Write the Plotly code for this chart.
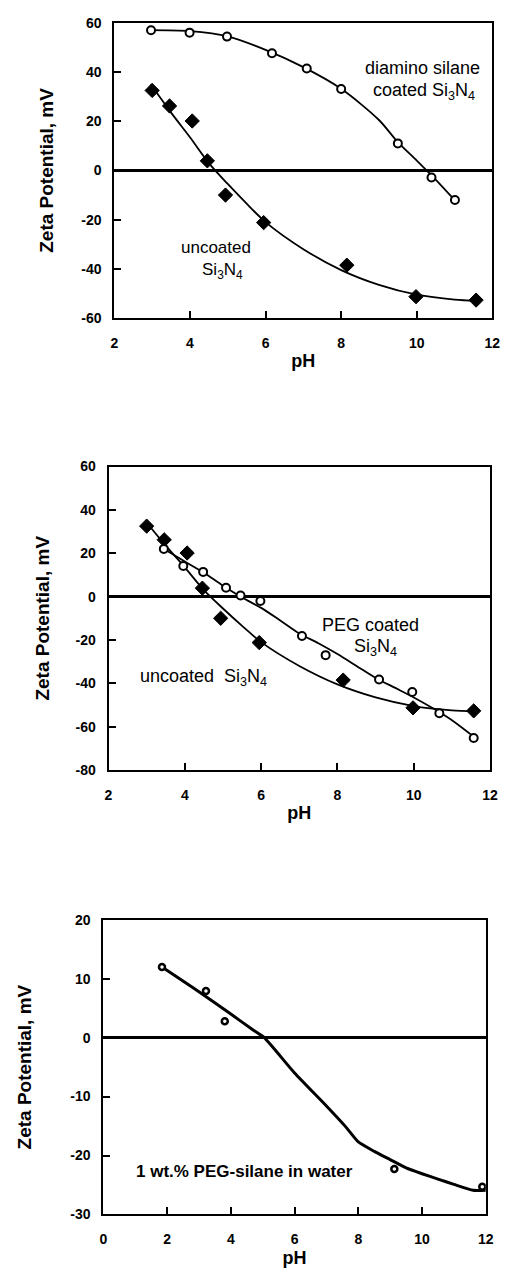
import plotly.graph_objects as go

# ---- Panel 1 & 2: uncoated Si3N4 (measured points and fitted curve) ----
ph_uncoated = [3.0, 3.46, 4.06, 4.46, 4.94, 5.95, 8.15, 9.98, 11.57]
zeta_uncoated = [32.5, 26.2, 20.1, 3.9, -10.0, -21.2, -38.5, -51.3, -52.7]
fit_ph_uncoated = [2.96, 3.5, 4.0, 4.5, 5.0, 5.5, 6.0, 7.0, 8.0, 9.0, 10.0, 11.0, 11.6]
fit_zeta_uncoated = [35.0, 23.5, 13.5, 3.0, -5.5, -13.5, -21.0, -32.0, -40.5, -46.5, -50.5, -52.5, -53.0]

# ---- Panel 1: diamino silane coated Si3N4 ----
ph_diamino = [2.97, 3.99, 4.98, 6.17, 7.09, 8.0, 9.5, 10.39, 11.01]
zeta_diamino = [57.0, 56.0, 54.4, 47.6, 41.4, 33.1, 11.0, -2.9, -12.0]
fit_ph_diamino = [2.9, 4.0, 5.0, 6.0, 7.0, 8.0, 9.0, 9.5, 10.0, 10.5, 11.0]
fit_zeta_diamino = [57.0, 56.6, 54.5, 49.0, 42.0, 33.2, 20.5, 11.5, 4.0, -3.7, -12.0]

# ---- Panel 2: PEG coated Si3N4 ----
ph_peg = [3.45, 3.96, 4.48, 5.08, 5.46, 5.98, 7.07, 7.69, 9.09, 9.96, 10.67, 11.57]
zeta_peg = [22.0, 14.1, 11.4, 4.1, 0.5, -2.0, -18.2, -27.0, -38.2, -44.0, -53.8, -65.2]
fit_ph_peg = [3.4, 4.0, 4.5, 5.0, 5.5, 6.0, 6.5, 7.0, 7.5, 8.0, 8.5, 9.0, 9.5, 10.0, 10.5, 11.0, 11.6]
fit_zeta_peg = [22.5, 16.2, 11.0, 5.0, -0.4, -5.2, -11.0, -17.0, -21.5, -26.5, -32.0, -37.5, -42.0, -46.5, -51.5, -57.0, -65.0]

# ---- Panel 3: 1 wt.% PEG-silane in water ----
ph_water = [1.84, 3.22, 3.81, 9.13, 11.89]
zeta_water = [12.0, 7.9, 2.8, -22.3, -25.3]
line_ph_water = [1.84, 3.0, 4.0, 4.7, 5.05, 6.0, 7.0, 7.6, 8.0, 8.5, 9.0, 9.5, 10.0, 10.5, 11.0, 11.6, 12.0]
line_zeta_water = [12.0, 7.8, 4.0, 1.3, 0.0, -6.0, -11.6, -15.1, -17.7, -19.3, -20.7, -22.1, -23.1, -24.0, -24.9, -25.9, -25.9]

# Tick values
x_ticks_12 = [2, 4, 6, 8, 10, 12]
x_ticks_3 = [0, 2, 4, 6, 8, 10, 12]
y_ticks_1 = [-60, -40, -20, 0, 20, 40, 60]
y_ticks_2 = [-80, -60, -40, -20, 0, 20, 40, 60]
y_ticks_3 = [-30, -20, -10, 0, 10, 20]

W, H = 515, 1281
FONT = "Liberation Sans"
BLACK = "black"

fig = go.Figure()


def curve(x, y, xa, ya, width=1.8, smoothing=0.8):
    fig.add_trace(go.Scatter(x=x, y=y, mode="lines", xaxis=xa, yaxis=ya,
                             line=dict(color=BLACK, width=width, shape="spline", smoothing=smoothing),
                             showlegend=False, hoverinfo="skip"))


def points(x, y, xa, ya, symbol, size, lw=2, fill=BLACK):
    fig.add_trace(go.Scatter(x=x, y=y, mode="markers", xaxis=xa, yaxis=ya,
                             marker=dict(symbol=symbol, size=size, color=fill,
                                         line=dict(color=BLACK, width=lw)),
                             showlegend=False))


# Panel 1
curve(fit_ph_diamino, fit_zeta_diamino, "x", "y")
curve(fit_ph_uncoated, fit_zeta_uncoated, "x", "y")
points(ph_diamino, zeta_diamino, "x", "y", "circle", 8, 2, "white")
points(ph_uncoated, zeta_uncoated, "x", "y", "diamond", 11, 1)

# Panel 2
curve(fit_ph_peg, fit_zeta_peg, "x2", "y2")
curve(fit_ph_uncoated, fit_zeta_uncoated, "x2", "y2")
points(ph_uncoated, zeta_uncoated, "x2", "y2", "diamond", 11, 1)
points(ph_peg, zeta_peg, "x2", "y2", "circle", 8, 2, "white")

# Panel 3
curve(line_ph_water, line_zeta_water, "x3", "y3", width=3, smoothing=0.5)
points(ph_water, zeta_water, "x3", "y3", "circle", 6, 2.5, "white")

tickfont = dict(family=FONT, size=14, color=BLACK, weight="bold")


def xax(domain, rng, ticks, anchor):
    return dict(domain=domain, range=rng, tickvals=ticks, ticktext=[str(t) for t in ticks],
                anchor=anchor, showline=True, mirror=True, linecolor=BLACK, linewidth=2,
                ticks="inside", ticklen=7, tickwidth=2, tickcolor=BLACK,
                showgrid=False, zeroline=False, tickfont=tickfont, ticklabelstandoff=11,
                title=dict(text="pH", font=dict(family=FONT, size=18, color=BLACK, weight="bold"),
                           standoff=5))


def yax(domain, rng, ticks, anchor, standoff):
    return dict(domain=domain, range=rng, tickvals=ticks, ticktext=[str(t) for t in ticks],
                anchor=anchor, showline=True, mirror=True, linecolor=BLACK, linewidth=2,
                ticks="inside", ticklen=7, tickwidth=2, tickcolor=BLACK,
                showgrid=False, zeroline=True, zerolinecolor=BLACK, zerolinewidth=3,
                tickfont=tickfont, ticklabelstandoff=8,
                title=dict(text="Zeta Potential, mV",
                           font=dict(family=FONT, size=19, color=BLACK, weight="bold"),
                           standoff=standoff))


def ydom(top, bottom):
    return [1 - bottom / H, 1 - top / H]


fig.update_layout(
    width=W, height=H,
    margin=dict(l=0, r=0, t=0, b=0),
    paper_bgcolor="white", plot_bgcolor="white",
    font=dict(family=FONT, color=BLACK),
    xaxis=xax([113 / W, 500 / W], [2, 12], x_ticks_12, "y"),
    yaxis=yax(ydom(15, 314), [-60, 60], y_ticks_1, "x", 23),
    xaxis2=xax([107 / W, 497.7 / W], [2, 12], x_ticks_12, "y2"),
    yaxis2=yax(ydom(464.3, 771.7), [-80, 60], y_ticks_2, "x2", 21),
    xaxis3=xax([101.7 / W, 493.3 / W], [0, 12], x_ticks_3, "y3"),
    yaxis3=yax(ydom(923.3, 1221.7), [-30, 20], y_ticks_3, "x3", 34),
)


def note(text, x, y, xref, yref, size=17, bold=False):
    fig.add_annotation(text=text, x=x, y=y, xref=xref, yref=yref, showarrow=False,
                       font=dict(family=FONT, size=size, color=BLACK,
                                 weight="bold" if bold else "normal"))


note("diamino silane", 10.15, 41.5, "x", "y", size=18)
note("coated Si<sub>3</sub>N<sub>4</sub>", 10.2, 32.0, "x", "y", size=18)
note("uncoated", 4.68, -31.3, "x", "y", size=17)
note("Si<sub>3</sub>N<sub>4</sub>", 4.85, -40.8, "x", "y", size=17)

note("PEG coated", 8.86, -13.0, "x2", "y2", size=18)
note("Si<sub>3</sub>N<sub>4</sub>", 9.0, -23.5, "x2", "y2", size=18)
note("uncoated  Si<sub>3</sub>N<sub>4</sub>", 4.5, -37.5, "x2", "y2", size=18)

note("1 wt.% PEG-silane in water", 4.43, -22.7, "x3", "y3", size=17, bold=True)

fig.write_html("out.html")
